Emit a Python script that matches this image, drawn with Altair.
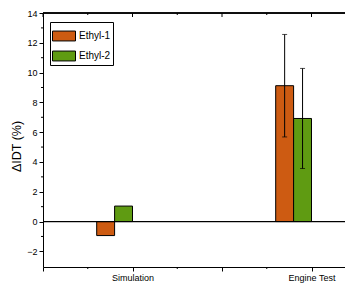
import altair as alt
import pandas as pd

categories = ["Simulation", "Engine Test"]
series = ["Ethyl-1", "Ethyl-2"]
ethyl1 = [-0.94, 9.12]
ethyl2 = [1.04, 6.92]
err1 = [None, 3.44]
err2 = [None, 3.36]
colors = ["#CD5B12", "#5F9B12"]
y_major = list(range(-2, 15, 2))
y_minor = list(range(-1, 14, 2))
x_major = [0.5, 1.0, 1.5, 2.0]
x_minor = [0.75, 1.25, 1.75]

cat_pos = [1.0, 2.0]
bar_w = 0.1
rows = []
for s_i, (name, vals, errs) in enumerate(zip(series, [ethyl1, ethyl2], [err1, err2])):
    for c_i, cat in enumerate(categories):
        x0 = cat_pos[c_i] - 2 * bar_w + s_i * bar_w
        e = errs[c_i]
        rows.append(dict(category=cat, series=name, value=vals[c_i], zero=0.0,
                         x0=x0, x1=x0 + bar_w, xc=x0 + bar_w / 2,
                         lo=(vals[c_i] - e) if e is not None else None,
                         hi=(vals[c_i] + e) if e is not None else None))
df = pd.DataFrame(rows)
err_df = df.dropna(subset=["lo"])
xmaj_df = pd.DataFrame({"t": x_major})
xmin_df = pd.DataFrame({"t": x_minor})
ymin_df = pd.DataFrame({"v": y_minor})

W, H = 302, 254
FONT = "Liberation Sans"
xdom = [0.5, 0.5 + W / 179.0]
ydom = [-3.05, 14]

label_expr = " : ".join(
    f"datum.value == {p} ? '{c}'" for p, c in zip(cat_pos, categories)) + " : ''"

xscale = alt.Scale(domain=xdom, nice=False, zero=False)
yscale = alt.Scale(domain=ydom, nice=False, zero=False)

xaxis = alt.Axis(values=x_major, labelExpr=label_expr, title=None, grid=False,
                 domainColor="black", tickColor="black", labelFont=FONT, labelFontSize=9,
                 labelColor="black", labelPadding=2, labelOverlap=False, tickSize=4,
                 labelFlush=False)
yaxis = alt.Axis(values=y_major, title="ΔIDT (%)", grid=False, domainColor="black",
                 tickColor="black", labelFont=FONT, labelFontSize=9, labelColor="black",
                 labelPadding=2, labelOverlap=False, tickSize=4,
                 titleFont=FONT, titleFontSize=12.5, titleFontWeight="normal", titleColor="black",
                 titlePadding=3, titleY=H / 2 + 6)

legend = alt.Legend(title=None, orient="none", legendX=7, legendY=9,
                    symbolType="M-1,-0.43H1V0.43H-1Z", symbolSize=529,
                    symbolStrokeColor="black", symbolStrokeWidth=1, symbolOpacity=1,
                    labelFont=FONT, labelFontSize=10, labelColor="black", labelOffset=3,
                    strokeColor="black", fillColor="white", padding=2, rowPadding=1)

bars = alt.Chart(df).mark_rect(stroke="black", strokeWidth=1).encode(
    x=alt.X("x0:Q", scale=xscale, axis=xaxis),
    x2="x1:Q",
    y=alt.Y("zero:Q", scale=yscale, axis=yaxis),
    y2="value:Q",
    fill=alt.Fill("series:N", scale=alt.Scale(domain=series, range=colors), legend=legend),
)

zero_line = alt.Chart(df).mark_rule(color="black", strokeWidth=1).encode(
    y=alt.Y("zero:Q", scale=yscale, axis=yaxis), x=alt.value(0), x2=alt.value(W)
)

top_line = alt.Chart(df).mark_rule(color="black", strokeWidth=1).encode(
    y=alt.value(0), x=alt.value(0), x2=alt.value(W)
)

top_major = alt.Chart(xmaj_df).mark_rule(color="black", strokeWidth=1).encode(
    x=alt.X("t:Q", scale=xscale, axis=xaxis), y=alt.value(0), y2=alt.value(4)
)
top_minor = alt.Chart(xmin_df).mark_rule(color="black", strokeWidth=1).encode(
    x=alt.X("t:Q", scale=xscale, axis=xaxis), y=alt.value(0), y2=alt.value(2)
)
bottom_minor = alt.Chart(xmin_df).mark_rule(color="black", strokeWidth=1).encode(
    x=alt.X("t:Q", scale=xscale, axis=xaxis), y=alt.value(H), y2=alt.value(H + 2)
)
left_minor = alt.Chart(ymin_df).mark_rule(color="black", strokeWidth=1).encode(
    y=alt.Y("v:Q", scale=yscale, axis=yaxis), x=alt.value(-2), x2=alt.value(0)
)

err_rule = alt.Chart(err_df).mark_rule(color="black", strokeWidth=1).encode(
    x=alt.X("xc:Q", scale=xscale, axis=xaxis), y=alt.Y("lo:Q", scale=yscale, axis=yaxis), y2="hi:Q"
)
err_cap_hi = alt.Chart(err_df).mark_tick(color="black", orient="horizontal", size=5, thickness=1).encode(
    x=alt.X("xc:Q", scale=xscale, axis=xaxis), y=alt.Y("hi:Q", scale=yscale, axis=yaxis)
)
err_cap_lo = alt.Chart(err_df).mark_tick(color="black", orient="horizontal", size=5, thickness=1).encode(
    x=alt.X("xc:Q", scale=xscale, axis=xaxis), y=alt.Y("lo:Q", scale=yscale, axis=yaxis)
)

chart = alt.layer(bars, zero_line, top_line, top_major, top_minor, bottom_minor, left_minor,
                  err_rule, err_cap_hi, err_cap_lo).properties(
    width=W, height=H,
    autosize=alt.AutoSizeParams(type="none"),
    padding={"left": 35, "top": 5, "right": 0, "bottom": 16},
).configure_view(stroke=None).configure(background="white")

chart.save("out.html", embed_options={"renderer": "svg", "actions": False})
